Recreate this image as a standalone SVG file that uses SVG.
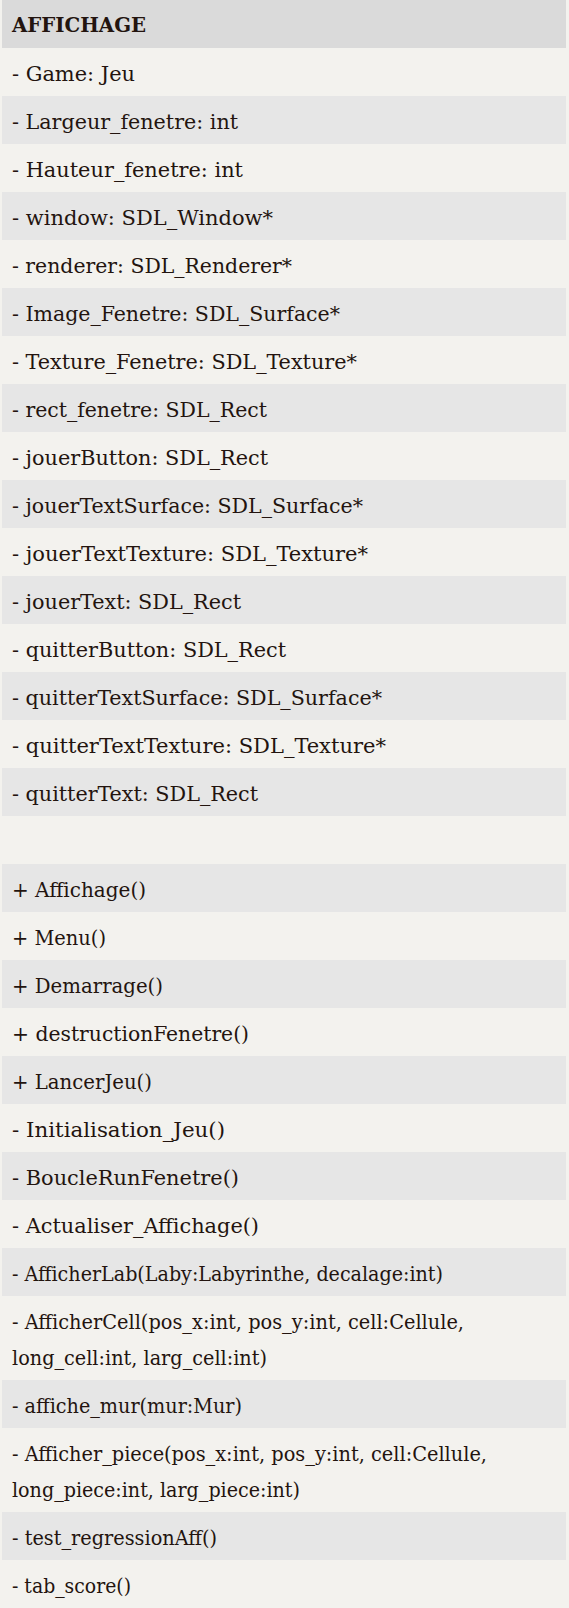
<svg xmlns="http://www.w3.org/2000/svg" width="569" height="1608" viewBox="0 0 569 1608">
  <style>
    .page { fill: #f3f2ee; }
    .head { fill: #dadada; }
    .alt { fill: #e6e6e6; }
    .t { font-family: "DejaVu Serif", "Liberation Serif", serif; font-size: 20.5px; font-stretch: condensed; fill: #23140f; }
    .title { font-family: "DejaVu Serif", "Liberation Serif", serif; font-size: 20px; font-weight: bold; font-stretch: condensed; fill: #23140f; }
  </style>
  <rect class="page" x="0" y="0" width="569" height="1608"/>

  <!-- Class box: AFFICHAGE -->
  <g id="class-affichage">
    <!-- header -->
    <rect class="head" x="2" y="0" width="564" height="48"/>
    <text class="title" x="12" y="32" textLength="134" lengthAdjust="spacingAndGlyphs">AFFICHAGE</text>

    <!-- attributes: alternating stripes -->
    <g id="attributes">
      <rect class="alt" x="2" y="96" width="564" height="48"/>
      <rect class="alt" x="2" y="192" width="564" height="48"/>
      <rect class="alt" x="2" y="288" width="564" height="48"/>
      <rect class="alt" x="2" y="384" width="564" height="48"/>
      <rect class="alt" x="2" y="480" width="564" height="48"/>
      <rect class="alt" x="2" y="576" width="564" height="48"/>
      <rect class="alt" x="2" y="672" width="564" height="48"/>
      <rect class="alt" x="2" y="768" width="564" height="48"/>

      <text class="t" x="12" y="81" textLength="123" lengthAdjust="spacingAndGlyphs">- Game: Jeu</text>
      <text class="t" x="12" y="129" textLength="226" lengthAdjust="spacingAndGlyphs">- Largeur_fenetre: int</text>
      <text class="t" x="12" y="177" textLength="231" lengthAdjust="spacingAndGlyphs">- Hauteur_fenetre: int</text>
      <text class="t" x="12" y="225" textLength="261" lengthAdjust="spacingAndGlyphs">- window: SDL_Window*</text>
      <text class="t" x="12" y="273" textLength="280" lengthAdjust="spacingAndGlyphs">- renderer: SDL_Renderer*</text>
      <text class="t" x="12" y="321" textLength="328" lengthAdjust="spacingAndGlyphs">- Image_Fenetre: SDL_Surface*</text>
      <text class="t" x="12" y="369" textLength="345" lengthAdjust="spacingAndGlyphs">- Texture_Fenetre: SDL_Texture*</text>
      <text class="t" x="12" y="417" textLength="255" lengthAdjust="spacingAndGlyphs">- rect_fenetre: SDL_Rect</text>
      <text class="t" x="12" y="465" textLength="256" lengthAdjust="spacingAndGlyphs">- jouerButton: SDL_Rect</text>
      <text class="t" x="12" y="513" textLength="351" lengthAdjust="spacingAndGlyphs">- jouerTextSurface: SDL_Surface*</text>
      <text class="t" x="12" y="561" textLength="356" lengthAdjust="spacingAndGlyphs">- jouerTextTexture: SDL_Texture*</text>
      <text class="t" x="12" y="609" textLength="229" lengthAdjust="spacingAndGlyphs">- jouerText: SDL_Rect</text>
      <text class="t" x="12" y="657" textLength="274" lengthAdjust="spacingAndGlyphs">- quitterButton: SDL_Rect</text>
      <text class="t" x="12" y="705" textLength="370" lengthAdjust="spacingAndGlyphs">- quitterTextSurface: SDL_Surface*</text>
      <text class="t" x="12" y="753" textLength="374" lengthAdjust="spacingAndGlyphs">- quitterTextTexture: SDL_Texture*</text>
      <text class="t" x="12" y="801" textLength="246" lengthAdjust="spacingAndGlyphs">- quitterText: SDL_Rect</text>
    </g>

    <!-- methods: alternating stripes -->
    <g id="methods">
      <rect class="alt" x="2" y="864" width="564" height="48"/>
      <rect class="alt" x="2" y="960" width="564" height="48"/>
      <rect class="alt" x="2" y="1056" width="564" height="48"/>
      <rect class="alt" x="2" y="1152" width="564" height="48"/>
      <rect class="alt" x="2" y="1248" width="564" height="48"/>
      <rect class="alt" x="2" y="1380" width="564" height="48"/>
      <rect class="alt" x="2" y="1512" width="564" height="48"/>

      <text class="t" x="12" y="897" textLength="134" lengthAdjust="spacingAndGlyphs">+ Affichage()</text>
      <text class="t" x="12" y="945" textLength="94" lengthAdjust="spacingAndGlyphs">+ Menu()</text>
      <text class="t" x="12" y="993" textLength="151" lengthAdjust="spacingAndGlyphs">+ Demarrage()</text>
      <text class="t" x="12" y="1041" textLength="237" lengthAdjust="spacingAndGlyphs">+ destructionFenetre()</text>
      <text class="t" x="12" y="1089" textLength="140" lengthAdjust="spacingAndGlyphs">+ LancerJeu()</text>
      <text class="t" x="12" y="1137" textLength="213" lengthAdjust="spacingAndGlyphs">- Initialisation_Jeu()</text>
      <text class="t" x="12" y="1185" textLength="227" lengthAdjust="spacingAndGlyphs">- BoucleRunFenetre()</text>
      <text class="t" x="12" y="1233" textLength="247" lengthAdjust="spacingAndGlyphs">- Actualiser_Affichage()</text>
      <text class="t" x="12" y="1281" textLength="431" lengthAdjust="spacingAndGlyphs">- AfficherLab(Laby:Labyrinthe, decalage:int)</text>
      <text class="t" x="12" y="1329" textLength="452" lengthAdjust="spacingAndGlyphs">- AfficherCell(pos_x:int, pos_y:int, cell:Cellule,</text>
      <text class="t" x="12" y="1365" textLength="255" lengthAdjust="spacingAndGlyphs">long_cell:int, larg_cell:int)</text>
      <text class="t" x="12" y="1413" textLength="230" lengthAdjust="spacingAndGlyphs">- affiche_mur(mur:Mur)</text>
      <text class="t" x="12" y="1461" textLength="475" lengthAdjust="spacingAndGlyphs">- Afficher_piece(pos_x:int, pos_y:int, cell:Cellule,</text>
      <text class="t" x="12" y="1497" textLength="288" lengthAdjust="spacingAndGlyphs">long_piece:int, larg_piece:int)</text>
      <text class="t" x="12" y="1545" textLength="205" lengthAdjust="spacingAndGlyphs">- test_regressionAff()</text>
      <text class="t" x="12" y="1593" textLength="119" lengthAdjust="spacingAndGlyphs">- tab_score()</text>
    </g>
  </g>
</svg>
